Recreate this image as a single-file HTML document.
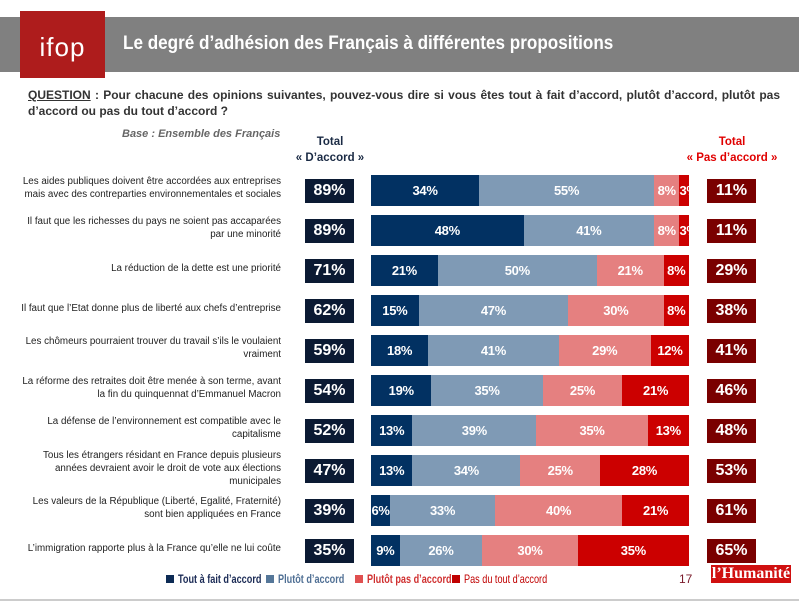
<!DOCTYPE html>
<html><head><meta charset="utf-8"><style>
body{margin:0;width:799px;height:601px;overflow:hidden;background:#fff;font-family:"Liberation Sans",sans-serif;position:relative}
.abs{position:absolute}
.lbl{position:absolute;right:518px;width:275px;text-align:right;font-size:9.8px;line-height:13px;color:#222}
.tot{position:absolute;width:49px;height:24px;color:#fff;font-weight:bold;font-size:16px;line-height:24px;text-align:center}
.seg{position:absolute;color:#fff;font-weight:bold;font-size:13px;text-align:center;line-height:31px;height:31px;overflow:visible;white-space:nowrap;letter-spacing:-0.3px}
.leg{position:absolute;top:572px;font-size:12px;font-weight:bold;white-space:nowrap}
.leg span.t{display:inline-block;transform:scaleX(0.76);transform-origin:left}
.sq{display:inline-block;width:8px;height:8px;margin-right:4px}
</style></head><body>
<div class="abs" style="left:0;top:17px;width:799px;height:55px;background:#808080"></div>
<div class="abs" style="left:20px;top:11px;width:85px;height:67px;background:#ae1c1c;color:#fff;font-size:26px;text-align:center;line-height:72px;letter-spacing:1px">ifop</div>
<div class="abs" style="left:123px;top:33px;color:#fff;font-weight:bold;font-size:19px;transform:scaleX(0.9);transform-origin:left;white-space:nowrap">Le degré d’adhésion des Français à différentes propositions</div>
<div class="abs" style="left:28px;top:87px;width:752px;font-size:12px;line-height:16px;font-weight:bold;color:#333;text-align:justify"><u>QUESTION</u> : Pour chacune des opinions suivantes, pouvez-vous dire si vous êtes tout à fait d’accord, plutôt d’accord, plutôt pas d’accord ou pas du tout d’accord ?</div>
<div class="abs" style="left:122px;top:128px;font-size:11px;font-style:italic;font-weight:bold;color:#666">Base : Ensemble des Français</div>
<div class="abs" style="left:290px;top:134px;width:80px;text-align:center;font-size:11.5px;line-height:16px;font-weight:bold;color:#1a2a44">Total<br>« D’accord »</div>
<div class="abs" style="left:680px;top:134px;width:104px;text-align:center;font-size:11.5px;line-height:16px;font-weight:bold;color:#e00000">Total<br>« Pas d’accord »</div>
<div id="chart"></div>
<div class="leg" style="left:166px;color:#1a2a55"><span class="sq" style="background:#0d2b55"></span><span class="t">Tout à fait d’accord</span></div>
<div class="leg" style="left:266px;color:#4f6f94"><span class="sq" style="background:#557799"></span><span class="t">Plutôt d’accord</span></div>
<div class="leg" style="left:355px;color:#d03030"><span class="sq" style="background:#e05050"></span><span class="t">Plutôt pas d’accord</span></div>
<div class="leg" style="left:452px;color:#c00000;font-weight:normal"><span class="sq" style="background:#c00000"></span><span class="t">Pas du tout d’accord</span></div>
<div class="abs" style="left:679px;top:572px;font-size:12px;color:#7a1a2a">17</div>
<div class="abs" style="left:711px;top:565px;width:80px;height:18px;background:#d01010;color:#fff;font-family:'Liberation Serif',serif;font-weight:bold;font-size:16px;line-height:18px;text-align:center">l’Humanité</div>
<div class="abs" style="left:0;top:599px;width:799px;height:2px;background:#ccc"></div>
<script>
const labels=["Les aides publiques doivent être accordées aux entreprises<br>mais avec des contreparties environnementales et sociales","Il faut que les richesses du pays ne soient pas accaparées<br>par une minorité","La réduction de la dette est une priorité","Il faut que l’Etat donne plus de liberté aux chefs d’entreprise","Les chômeurs pourraient trouver du travail s’ils le voulaient<br>vraiment","La réforme des retraites doit être menée à son terme, avant<br>la fin du quinquennat d’Emmanuel Macron","La défense de l’environnement est compatible avec le<br>capitalisme","Tous les étrangers résidant en France depuis plusieurs<br>années devraient avoir le droit de vote aux élections<br>municipales","Les valeurs de la République (Liberté, Egalité, Fraternité)<br>sont bien appliquées en France","L’immigration rapporte plus à la France qu’elle ne lui coûte"];
const toutAFait=[34,48,21,15,18,19,13,13,6,9];
const plutot=[55,41,50,47,41,35,39,34,33,26];
const plutotPas=[8,8,21,30,29,25,35,25,40,30];
const pasDuTout=[3,3,8,8,12,21,13,28,21,35];
const totalAccord=[89,89,71,62,59,54,52,47,39,35];
const totalPas=[11,11,29,38,41,46,48,53,61,65];
const colors=["#023162","#7f9ab5","#e58080","#cc0000"];
const chart=document.getElementById('chart');
const x0=371,scale=3.18,y0=190,step=40;
const xs=v=>v*scale; const yc=i=>y0+i*step;
labels.forEach((t,i)=>{
  const c=yc(i);
  const lines=t.split('<br>').length;
  const l=document.createElement('div');l.className='lbl';l.innerHTML=t;
  
  
  l.style.top=(c-2-lines*13/2)+'px';chart.appendChild(l);
  const a=document.createElement('div');a.className='tot';a.textContent=totalAccord[i]+'%';
  
  
  a.style.left='305px';a.style.top=(c-11)+'px';a.style.background='#0b1a33';chart.appendChild(a);
  const p=document.createElement('div');p.className='tot';p.textContent=totalPas[i]+'%';
  
  
  p.style.left='707px';p.style.top=(c-11)+'px';p.style.background='#7a0000';chart.appendChild(p);
  const vals=[toutAFait[i],plutot[i],plutotPas[i],pasDuTout[i]];
  let x=x0;
  vals.forEach((v,k)=>{
    const s=document.createElement('div');s.className='seg';
    
    
    s.style.left=x+'px';s.style.width=xs(v)+'px';s.style.top=(c-15)+'px';s.style.background=colors[k];
    s.textContent=v+'%';chart.appendChild(s);x+=xs(v);
  });
});
</script>
</body></html>
